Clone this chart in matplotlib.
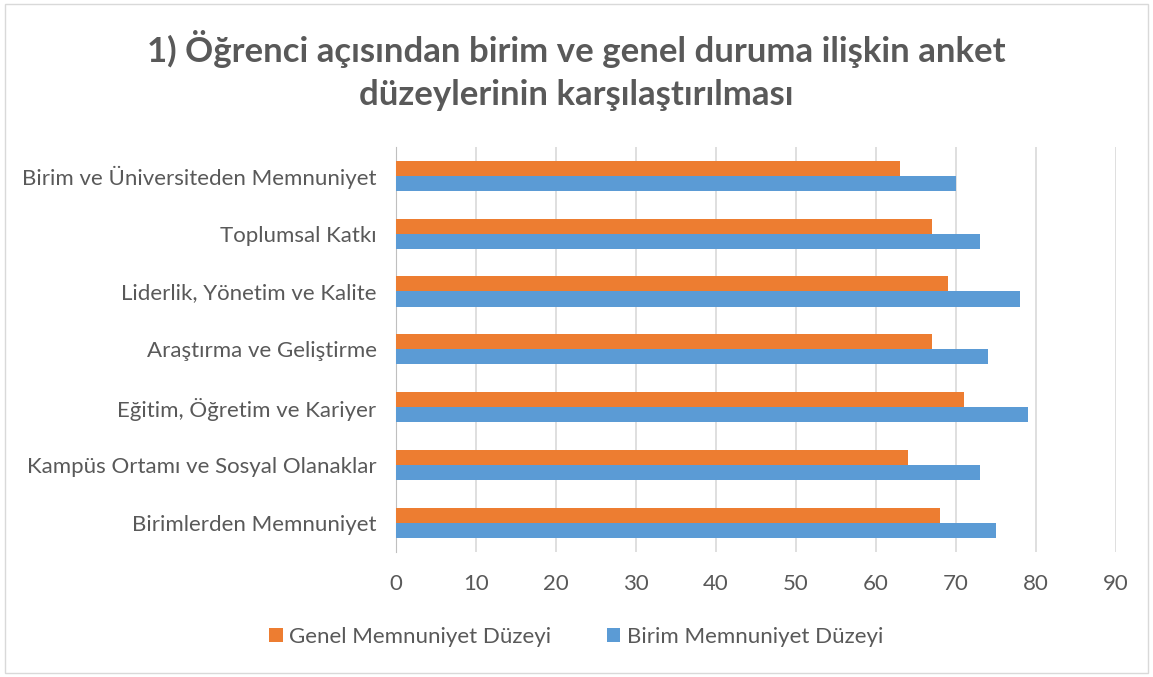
import numpy as np
import matplotlib
matplotlib.use("Agg")
from matplotlib import pyplot as plt
from matplotlib.patches import Rectangle

plt.rcParams['font.family'] = ['Lato', 'DejaVu Sans']

categories = ['Birimlerden Memnuniyet',
              'Kampüs Ortamı ve Sosyal Olanaklar',
              'Eğitim, Öğretim ve Kariyer',
              'Araştırma ve Geliştirme',
              'Liderlik, Yönetim ve Kalite',
              'Toplumsal Katkı',
              'Birim ve Üniversiteden Memnuniyet']
genel = [68, 64, 71, 67, 69, 67, 63]
birim = [75, 73, 79, 74, 78, 73, 70]
xticks = [0, 10, 20, 30, 40, 50, 60, 70, 80, 90]

gray = '#595959'
fig = plt.figure(figsize=(11.53, 6.77), dpi=100)
ax = fig.add_axes([0.3435, 0.185, 0.968 - 0.3435, 0.598])

y = np.arange(len(categories))
h = 0.26
ax.barh(y - h / 2, birim, height=h, color='#5B9BD5', label='Birim Memnuniyet Düzeyi', zorder=3)
ax.barh(y + h / 2, genel, height=h, color='#ED7D31', label='Genel Memnuniyet Düzeyi', zorder=3)

ax.set_xlim(0, 90)
ax.set_ylim(-0.5, len(categories) - 0.5)
ax.set_xticks(xticks)
ax.set_yticks(y)
ax.set_yticklabels(categories)
ax.grid(axis='x', color='#D9D9D9', linewidth=1.2, zorder=0)
for s in ['top', 'right', 'bottom']:
    ax.spines[s].set_visible(False)
ax.spines['left'].set_color('#BFBFBF')
ax.tick_params(axis='both', length=0, labelsize=16, colors=gray)
ax.tick_params(axis='x', pad=16)
ax.tick_params(axis='y', pad=14)

fig.text(0.5, 0.896, '1) Öğrenci açısından birim ve genel duruma ilişkin anket\ndüzeylerinin karşılaştırılması',
         ha='center', va='center', fontsize=25, fontweight='bold', color=gray, linespacing=1.4)

handles, labels = ax.get_legend_handles_labels()
fig.legend(handles[::-1], labels[::-1], loc='center', bbox_to_anchor=(0.5, 0.059), ncol=2,
           frameon=False, fontsize=16, labelcolor=gray, handlelength=0.6, handleheight=0.6,
           handletextpad=0.3, columnspacing=2.5)

fig.patches.append(Rectangle((0.004, 0.006), 0.992, 0.988, transform=fig.transFigure,
                             fill=False, edgecolor='#D9D9D9', linewidth=1))

plt.savefig('out.png', dpi=100)
